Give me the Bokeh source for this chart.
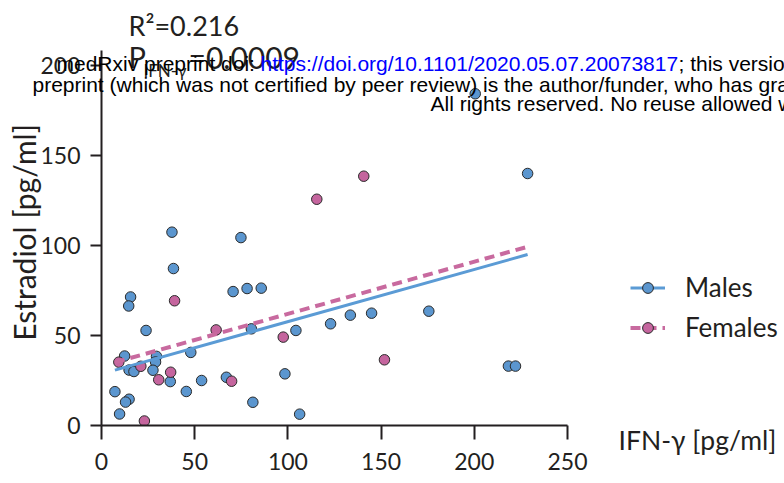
import numpy as np
from bokeh.plotting import figure
from bokeh.models import Legend, LegendItem, Range1d
from bokeh.core.properties import value
from bokeh.embed import file_html
from bokeh.resources import INLINE

# ---- data ----
male_ifng = [37.8, 74.8, 38.6, 15.6, 14.6, 70.6, 78.1, 85.7, 23.9, 80.4, 12.4, 29.5, 29.0,
             47.9, 14.8, 17.4, 27.6, 36.9, 53.7, 67.0, 98.4, 7.2, 45.5, 14.8, 12.9, 81.2,
             9.7, 228.6, 104.3, 122.9, 133.5, 144.9, 175.6, 106.3, 218.3, 222.1, 200.5]
male_estradiol = [107.4, 104.4, 87.2, 71.4, 66.4, 74.4, 76.1, 76.3, 52.8, 53.7, 38.6, 38.4, 35.3,
                  40.6, 30.8, 30.0, 30.7, 24.4, 25.0, 26.8, 28.7, 18.8, 18.9, 14.6, 13.0, 12.9,
                  6.4, 140.0, 52.8, 56.5, 61.3, 62.4, 63.5, 6.3, 33.0, 33.0, 184.3]
female_ifng = [9.3, 21.1, 39.2, 61.5, 97.5, 30.7, 37.1, 69.8, 23.0, 115.5, 140.7, 151.8]
female_estradiol = [35.2, 32.9, 69.3, 53.1, 49.1, 25.4, 29.6, 24.6, 2.5, 125.7, 138.5, 36.5]

fit_slope = 0.29
fit_intercept_males = 28.7
fit_intercept_females = 33.0

x_axis_max = 250
y_axis_max = 208.3
x_ticks = [0, 50, 100, 150, 200, 250]
y_ticks = [0, 50, 100, 150, 200]
series_labels = ["Males", "Females"]
x_title = "IFN-\u03b3 [pg/ml]"
y_title = "Estradiol [pg/ml]"
r2_text = "R\u00b2=0.216"
p_sub_text = "IFN-\u03b3"
p_value_text = "=0.0009"
watermark_lines = [
    "medRxiv preprint doi: ",
    "https://doi.org/10.1101/2020.05.07.20073817",
    "; this version posted May 11, 2020. The copyright holder for this",
    "preprint (which was not certified by peer review) is the author/funder, "
    "who has granted medRxiv a license to display the preprint in perpetuity.",
    "All rights reserved. No reuse allowed without permission.",
]

# ---- layout ----
W, H = 784, 483
FL, FB = 101, 425          # frame left / bottom in canvas px
PX_PER_X = 466 / 250.0     # px per IFN unit
PX_PER_Y = 1.8             # px per estradiol unit
X_END = (W - FL) / PX_PER_X
Y_END = FB / PX_PER_Y

BLUE_FILL = "#5B96CF"
PINK_FILL = "#C5659E"
BLUE_LINE = "#5B9BD5"
PINK_LINE = "#C86A9F"
DARK = "#231F20"
FONT = "Lato"
WM_FONT = "Liberation Sans"


def dx(px):
    return (px - FL) / PX_PER_X


def dy(py):
    return (FB - py) / PX_PER_Y


p = figure(width=W, height=H, x_range=Range1d(0, X_END), y_range=Range1d(0, Y_END),
           output_backend="svg", toolbar_location=None,
           min_border_left=FL, min_border_right=0,
           min_border_top=0, min_border_bottom=H - FB)
p.outline_line_color = None
p.grid.visible = False
p.background_fill_color = "white"
p.border_fill_color = "white"

p.xaxis.ticker = x_ticks
p.yaxis.ticker = y_ticks
p.xaxis.bounds = (0, x_axis_max)
p.yaxis.bounds = (0, y_axis_max)
for ax in (p.xaxis, p.yaxis):
    ax.axis_line_width = 2
    ax.axis_line_color = DARK
    ax.major_tick_line_width = 2
    ax.major_tick_line_color = DARK
    ax.major_tick_in = 0
    ax.minor_tick_line_color = None
    ax.major_label_text_font = FONT
    ax.major_label_text_font_size = "23px"
    ax.major_label_text_color = DARK
p.xaxis.major_tick_out = 14
p.xaxis.major_label_standoff = 13
p.yaxis.major_tick_out = 11
p.yaxis.major_label_standoff = 10

# points
m_pts = p.scatter(male_ifng, male_estradiol, size=10.5, fill_color=BLUE_FILL,
                  line_color="#2a2a2a", line_width=1)
f_pts = p.scatter(female_ifng, female_estradiol, size=10.5, fill_color=PINK_FILL,
                  line_color="#2a2a2a", line_width=1)

# regression lines (common slope, sex-specific intercept)
all_x = male_ifng + female_ifng
fx = np.array([min(all_x), max(all_x)])
m_line = p.line(fx, fit_intercept_males + fit_slope * fx, line_color=BLUE_LINE, line_width=3)
f_line = p.line(fx, fit_intercept_females + fit_slope * fx, line_color=PINK_LINE,
                line_width=4, line_dash="10 6")

legend = Legend(items=[LegendItem(label=series_labels[0], renderers=[m_line, m_pts]),
                       LegendItem(label=series_labels[1], renderers=[f_line, f_pts])],
                location=(630 - FL, 78), padding=0, spacing=0, margin=0,
                glyph_width=35, glyph_height=27, label_height=40, label_standoff=20,
                label_text_font=FONT, label_text_font_size="26px", label_text_color=DARK,
                border_line_alpha=0, background_fill_alpha=0)
p.add_layout(legend)


def add_text(px, py, txt, size, color=DARK, font=FONT, angle=0.0, align="left"):
    p.text(x=[dx(px)], y=[dy(py)], text=[txt], angle=angle, text_align=align,
           text_baseline="middle", text_font=value(font), text_font_size=size,
           text_color=color, level="overlay")


# axis titles
add_text(23, 232, y_title, "30px", angle=np.pi / 2, align="center")
add_text(618, 439, x_title, "26.5px")

# statistics
add_text(128, 25, r2_text, "27px")
add_text(128, 56, "P", "29px")
add_text(143, 70, p_sub_text, "17px")
add_text(188, 56, p_value_text, "30px")

# medRxiv watermark
add_text(56, 62.5, watermark_lines[0], "21px", color="black", font=WM_FONT)
add_text(260, 62.5, watermark_lines[1], "21px", color="blue", font=WM_FONT)
add_text(678, 62.5, watermark_lines[2], "21px", color="black", font=WM_FONT)
add_text(32, 83.5, watermark_lines[3], "21px", color="black", font=WM_FONT)
add_text(430, 103, watermark_lines[4], "21px", color="black", font=WM_FONT)

open("out.html", "w").write(file_html(p, INLINE))
